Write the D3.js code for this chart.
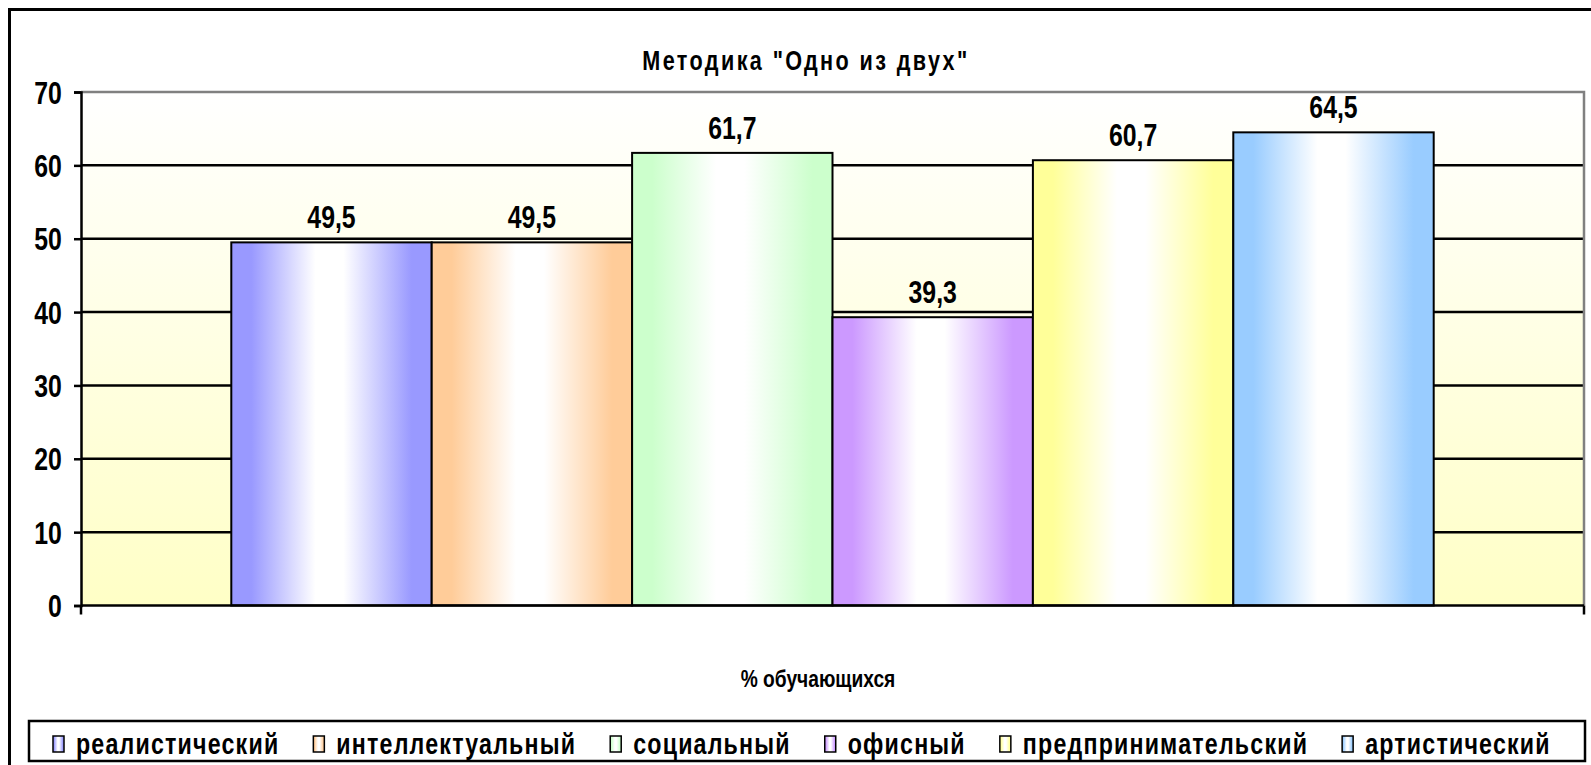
<!DOCTYPE html>
<html>
<head>
    <meta charset="utf-8">
    <title>Методика "Одно из двух"</title>
</head>
<body>
<style type="text/css">
    body {
        margin: 0;
        background: #fff;
    }

    #renderer {
        display: block;
        width: 1591px;
        height: 765px;
        background: #FFF
    }

    #renderer text {
        font-family: "Liberation Sans", Arial, sans-serif;
        font-weight: bold;
        fill: #000;
    }
</style>
<script type="text/javascript" src="https://cdnjs.cloudflare.com/ajax/libs/d3/7.8.5/d3.min.js"></script>
<svg id='renderer'></svg>

<script type="text/javascript">
    // chart data
    var seriesNames = ['реалистический', 'интеллектуальный', 'социальный', 'офисный', 'предпринимательский', 'артистический'];
    var seriesValues = [49.5, 49.5, 61.7, 39.3, 60.7, 64.5];
    var seriesColors = ['#9999ff', '#ffcc99', '#ccffcc', '#cc99ff', '#ffff99', '#99ccff'];
    var yTickValues = [0, 10, 20, 30, 40, 50, 60, 70];
    var chartTitle = 'Методика "Одно из двух"';
    var axisTitle = '% обучающихся';

    var root = d3.select('#renderer');

    var totalWidth = 1591;
    var totalHeight = 765;

    // narrow font look: no narrow face installed, so squeeze text horizontally
    var squeeze = 0.8;

    // plot area
    var plotLeft = 81;
    var plotRight = 1584;
    var plotTop = 92;
    var plotBottom = 605.5;

    var x = d3.scaleBand()
        .domain(seriesNames)
        .range([plotLeft, plotRight])
        .paddingInner(0)
        .paddingOuter(0.75);

    var y = d3.scaleLinear()
        .domain([0, 70])
        .range([plotBottom, plotTop]);

    var formatValue = function (v) {
        return d3.format('.1f')(v).replace('.', ',');
    };

    function narrowText(parent, str, px, py, size, anchor, spacing) {
        var g = parent.append('g')
            .attr('transform', 'translate(' + px + ',' + py + ') scale(' + squeeze + ',1)');
        var t = g.append('text')
            .text(str)
            .attr('font-size', size)
            .attr('text-anchor', anchor || 'middle');
        if (spacing) t.attr('letter-spacing', spacing);
        return t;
    }

    // gradients
    var defs = root.append('defs');

    var bg = defs.append('linearGradient')
        .attr('id', 'plotBg')
        .attr('x1', 0).attr('y1', 0).attr('x2', 0).attr('y2', 1);
    bg.append('stop').attr('offset', '0%').attr('stop-color', '#ffffff');
    bg.append('stop').attr('offset', '100%').attr('stop-color', '#ffffc6');

    seriesColors.forEach(function (color, i) {
        var g = defs.append('linearGradient')
            .attr('id', 'barFill' + i)
            .attr('x1', 0).attr('y1', 0).attr('x2', 1).attr('y2', 0);
        [[0, color], [0.1, color], [0.42, '#ffffff'], [0.56, '#ffffff'], [0.9, color], [1, color]].forEach(function (s) {
            g.append('stop').attr('offset', s[0]).attr('stop-color', s[1]);
        });
    });

    // outer chart border (runs off the right and bottom edges)
    root.append('rect')
        .attr('x', 9.5)
        .attr('y', 9.5)
        .attr('width', totalWidth + 20)
        .attr('height', totalHeight + 20)
        .attr('fill', 'none')
        .attr('stroke', '#000')
        .attr('stroke-width', 3);

    // title
    narrowText(root, chartTitle, 806, 70, 27, 'middle', 3);

    // plot background
    root.append('rect')
        .attr('x', plotLeft)
        .attr('y', plotTop)
        .attr('width', plotRight - plotLeft)
        .attr('height', plotBottom - plotTop)
        .attr('fill', 'url(#plotBg)');

    // horizontal grid
    root.append('g')
        .selectAll('line')
        .data(yTickValues.filter(function (d) { return d > 0 && d < 70; }))
        .join('line')
        .attr('x1', plotLeft)
        .attr('x2', plotRight)
        .attr('y1', function (d) { return y(d); })
        .attr('y2', function (d) { return y(d); })
        .attr('stroke', '#000')
        .attr('stroke-width', 2.5);

    // plot area top / right border
    root.append('path')
        .attr('d', 'M' + plotLeft + ',' + y(70) + 'H' + plotRight + 'V' + plotBottom)
        .attr('fill', 'none')
        .attr('stroke', '#808080')
        .attr('stroke-width', 2.5);

    // bars
    root.append('g')
        .selectAll('rect')
        .data(seriesValues)
        .join('rect')
        .attr('x', function (d, i) { return x(seriesNames[i]); })
        .attr('y', function (d) { return y(d); })
        .attr('width', x.bandwidth())
        .attr('height', function (d) { return plotBottom - y(d); })
        .attr('fill', function (d, i) { return 'url(#barFill' + i + ')'; })
        .attr('stroke', '#000')
        .attr('stroke-width', 2);

    // value labels
    var labelLayer = root.append('g');
    seriesValues.forEach(function (d, i) {
        narrowText(labelLayer, formatValue(d), x(seriesNames[i]) + x.bandwidth() / 2, y(d) - 14, 31, 'middle');
    });

    // y axis
    var yAxis = root.append('g')
        .attr('transform', 'translate(' + plotLeft + ',0)')
        .call(d3.axisLeft(y).tickValues(yTickValues).tickSize(7).tickPadding(17).tickFormat(d3.format('d')));
    yAxis.select('.domain').attr('stroke', '#000').attr('stroke-width', 2.5);
    yAxis.selectAll('.tick line').attr('stroke', '#000').attr('stroke-width', 2.5);
    yAxis.selectAll('.tick text')
        .attr('font-size', 31)
        .attr('dy', '0.36em')
        .attr('transform', 'scale(' + squeeze + ',1)');
    yAxis.attr('font-family', null).attr('font-size', null);

    // x axis (single category, ticks at both ends)
    root.append('line')
        .attr('x1', plotLeft)
        .attr('x2', plotRight)
        .attr('y1', plotBottom)
        .attr('y2', plotBottom)
        .attr('stroke', '#000')
        .attr('stroke-width', 2.5);
    [plotLeft, plotRight].forEach(function (px) {
        root.append('line')
            .attr('x1', px).attr('x2', px)
            .attr('y1', plotBottom).attr('y2', plotBottom + 9)
            .attr('stroke', '#000')
            .attr('stroke-width', 2.5);
    });

    // axis title
    narrowText(root, axisTitle, 818, 687, 24, 'middle', 0);

    // legend
    root.append('rect')
        .attr('x', 29)
        .attr('y', 721)
        .attr('width', 1585 - 29)
        .attr('height', 40)
        .attr('fill', '#fff')
        .attr('stroke', '#000')
        .attr('stroke-width', 2.5);

    var legendX = 53;
    seriesNames.forEach(function (name, i) {
        root.append('rect')
            .attr('x', legendX)
            .attr('y', 736)
            .attr('width', 11)
            .attr('height', 16)
            .attr('fill', 'url(#barFill' + i + ')')
            .attr('stroke', '#000')
            .attr('stroke-width', 1.5);

        var label = narrowText(root, name, legendX + 23, 754, 29, 'start', 1.5);

        legendX += 23 + label.node().getComputedTextLength() * squeeze + 34;
    });
</script>
</body>
</html>
